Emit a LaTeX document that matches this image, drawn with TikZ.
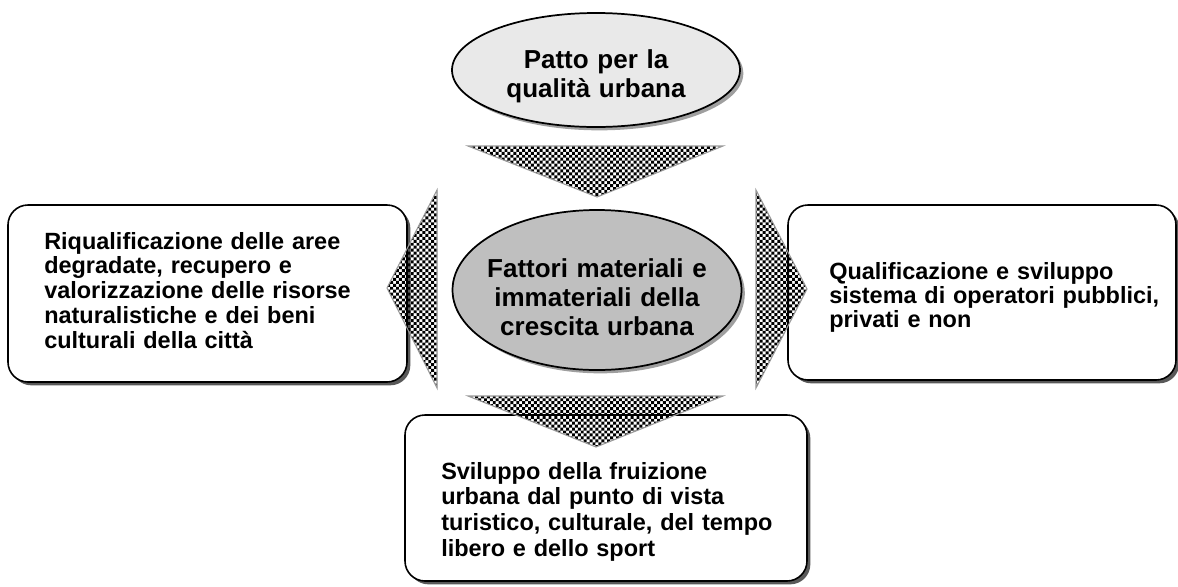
\documentclass[tikz,border=0pt]{standalone}
\usepackage{fontspec}
\setmainfont{Liberation Sans}
\usetikzlibrary{patterns,shadows,shapes.geometric}
\pgfdeclarepatternformonly{finecheck}{\pgfqpoint{-0.1pt}{-0.1pt}}{\pgfqpoint{4.5pt}{4.5pt}}{\pgfqpoint{4.4pt}{4.4pt}}{%
  \pgfpathrectangle{\pgfqpoint{0pt}{0pt}}{\pgfqpoint{2.2pt}{2.2pt}}%
  \pgfpathrectangle{\pgfqpoint{2.2pt}{2.2pt}}{\pgfqpoint{2.2pt}{2.2pt}}%
  \pgfusepath{fill}}
\begin{document}
\begin{tikzpicture}[x=0.75pt,y=-0.75pt,
  oval/.style={ellipse, draw=black, line width=1.3pt, inner sep=0pt,
    drop shadow={shadow xshift=2.5pt, shadow yshift=-2.5pt, fill=gray!75, opacity=1}},
  rbox/.style={rectangle, rounded corners=15pt, draw=black, line width=1.2pt, fill=white, inner sep=0pt,
    drop shadow={shadow xshift=2.5pt, shadow yshift=-2.5pt, fill=black!65, opacity=1}},
  arrowshape/.style={pattern=finecheck, draw=gray!80, line width=0.8pt, line join=miter},
  ovaltext/.style={inner sep=0pt, text width=250pt, align=center, anchor=base,
    font=\bfseries\fontsize{19.5}{22}\selectfont},
  boxtext/.style={inner sep=0pt, text width=290pt, align=left, anchor=base west}
]
\useasboundingbox (0,0) rectangle (1178,586);

% boxes
\node[rbox, minimum width=299.25pt, minimum height=132.75pt] (lbox) at (207.5,293.5) {};
\node[rbox, minimum width=291pt, minimum height=131.25pt] (rboxn) at (982,292.5) {};
\node[rbox, minimum width=301.5pt, minimum height=124.5pt] (bbox) at (606,498) {};

% ellipses
\node[oval, fill=gray!17, minimum width=216pt, minimum height=85.5pt] (top) at (596,70) {};
\node[oval, fill=gray!50, minimum width=216.75pt, minimum height=120pt] (mid) at (597,290) {};

% arrows
\path[arrowshape] (468,146) -- (723,146) -- (597,197) -- cycle;
\path[arrowshape] (437,190) -- (437,388) -- (387,288) -- cycle;
\path[arrowshape] (756,190) -- (756,388) -- (807,289) -- cycle;
\path[arrowshape] (468,396) -- (723,396) -- (596,447) -- cycle;

% texts
\node[ovaltext] (toptext) at (596,68) {Patto per la\\qualità urbana};
\node[ovaltext] (midtext) at (597,277) {Fattori materiali e\\immateriali della\\crescita urbana};
\node[boxtext, font=\bfseries\fontsize{17.6}{18.6}\selectfont] (ltext) at (44,249) {Riqualificazione delle aree\\degradate, recupero e\\valorizzazione delle risorse\\naturalistiche e dei beni\\culturali della città};
\node[boxtext, font=\bfseries\fontsize{17.6}{18}\selectfont] (rtext) at (829,279) {Qualificazione e sviluppo\\sistema di operatori pubblici,\\privati e non};
\node[boxtext, font=\bfseries\fontsize{17.6}{19.3}\selectfont] (btext) at (441,479) {Sviluppo della fruizione\\urbana dal punto di vista\\turistico, culturale, del tempo\\libero e dello sport};
\end{tikzpicture}
\end{document}
